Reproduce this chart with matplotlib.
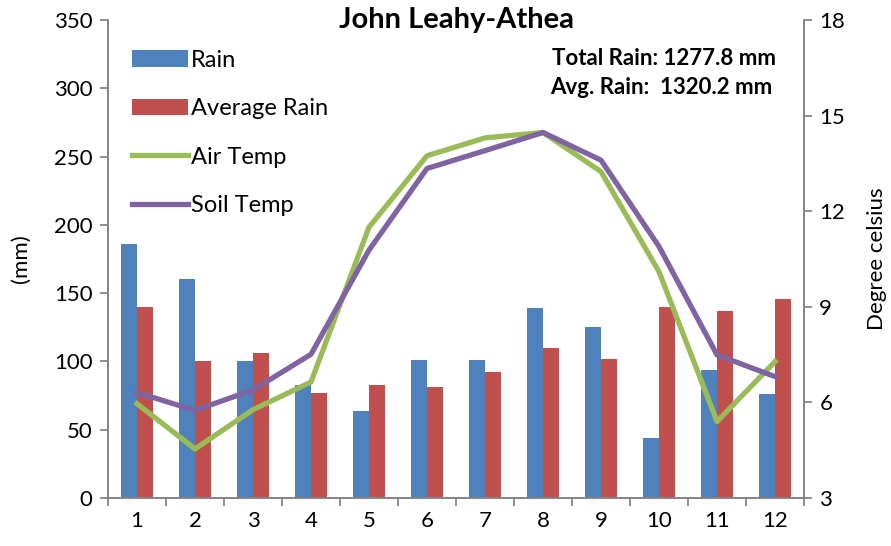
import matplotlib
matplotlib.use("Agg")
import matplotlib.pyplot as plt
import numpy as np

plt.rcParams['font.family'] = ['Lato', 'DejaVu Sans']

# Data
months = [1, 2, 3, 4, 5, 6, 7, 8, 9, 10, 11, 12]
rain = [186, 160, 100, 83, 64, 101, 101, 139, 125, 44, 94, 76]
avgRain = [140, 100, 106, 77, 83, 81, 92, 110, 102, 140, 137, 146]
airTemp = [5.96, 4.54, 5.77, 6.64, 11.5, 13.74, 14.3, 14.47, 13.24, 10.1, 5.4, 7.28]
soilTemp = [6.31, 5.75, 6.39, 7.51, 10.78, 13.34, 13.9, 14.47, 13.6, 10.89, 7.49, 6.81]

titleStr = "John Leahy-Athea"
totalStr = "Total Rain: 1277.8 mm"
avgStr = "Avg. Rain:  1320.2 mm"

blue = "#4F81BD"
red = "#C0504D"
green = "#9BBB59"
purple = "#8064A2"
axisCol = "#868686"

fig = plt.figure(figsize=(8.91, 5.46), dpi=100)
ax1 = fig.add_axes([0.1212, 0.0879, 0.7812, 0.8755])
ax2 = ax1.twinx()

x = np.array(months)
w = 0.276
ax1.bar(x - w/2, rain, width=w, color=blue, label="Rain")
ax1.bar(x + w/2, avgRain, width=w, color=red, label="Average Rain")
ax2.plot(x, airTemp, color=green, linewidth=3.8, label="Air Temp")
ax2.plot(x, soilTemp, color=purple, linewidth=3.8, label="Soil Temp")

ax1.set_xlim(0.5, 12.5)
ax1.set_ylim(0, 350)
ax2.set_ylim(3, 18)
ax1.set_yticks(range(0, 351, 50))
ax2.set_yticks(range(3, 19, 3))
ax1.set_xticks(months)
ax1.set_xticks(np.arange(0.5, 13, 1), minor=True)

ax1.tick_params(axis='x', which='major', length=0, labelsize=16, colors='black', pad=9)
ax1.tick_params(axis='x', which='minor', length=6, color=axisCol, width=1.3)
ax1.tick_params(axis='y', which='major', length=6, color=axisCol, width=1.3, labelsize=16, pad=5)
ax2.tick_params(axis='y', which='major', length=6, color=axisCol, width=1.3, labelsize=16, pad=5)

for a in (ax1, ax2):
    a.spines['top'].set_visible(False)
    for s in ('left', 'right', 'bottom'):
        a.spines[s].set_color(axisCol)
        a.spines[s].set_linewidth(1.3)

ax1.set_ylabel("(mm)", fontsize=16, labelpad=17)
ax2.set_ylabel("Degree celsius", fontsize=16, labelpad=16)

ax1.text(0.5, 1.0, titleStr, transform=ax1.transAxes, ha='center', va='center',
         fontsize=21, fontweight='bold')
ax1.text(0.96, 0.92, totalStr, transform=ax1.transAxes, ha='right', va='center',
         fontsize=16, fontweight='bold')
ax1.text(0.955, 0.858, avgStr, transform=ax1.transAxes, ha='right', va='center',
         fontsize=16, fontweight='bold')

h1, l1 = ax1.get_legend_handles_labels()
h2, l2 = ax2.get_legend_handles_labels()
leg = ax2.legend(h1 + h2, l1 + l2, loc='upper left', bbox_to_anchor=(0.021, 0.958),
                 frameon=False, fontsize=17, labelspacing=1.17, handlelength=2.35,
                 handletextpad=0.15, borderaxespad=0.)

fig.savefig("out.png", dpi=100)
plt.close(fig)
